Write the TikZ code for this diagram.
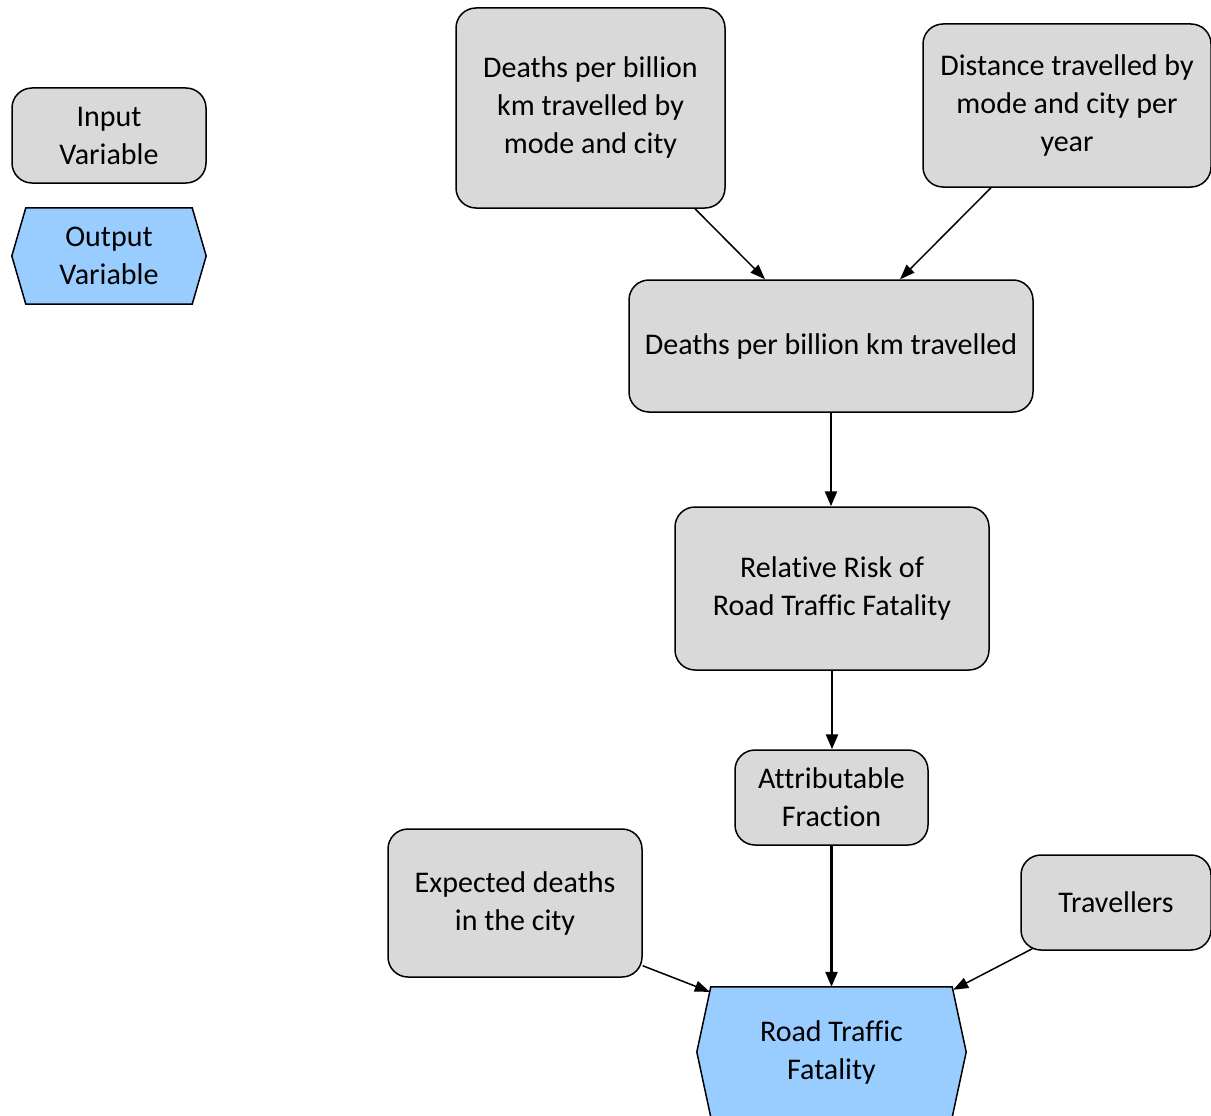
\documentclass[tikz,border=0pt]{standalone}
\usepackage{fontspec}
\setmainfont{Carlito}[Ligatures=NoCommon]
\usetikzlibrary{arrows.meta,calc,backgrounds}
\definecolor{inputgrey}{HTML}{D9D9D9}
\definecolor{outputblue}{HTML}{99CCFF}
\begin{document}
\begin{tikzpicture}[x=1pt,y=-1pt,
  every node/.style={font=\fontsize{30pt}{38pt}\selectfont, align=center, inner sep=0pt},
  inbox/.style={draw=black, line width=1.5pt, fill=inputgrey, rounded corners=20pt},
  outbox/.style={draw=none},
  hexshape/.style={draw=black, line width=1.5pt, fill=outputblue},
  arr/.style={draw=black, line width=1.5pt, -{Triangle[length=15pt,width=11pt]}},
  varr/.style={draw=black, line width=2.5pt, -{Triangle[length=15pt,width=12pt]}}]
\useasboundingbox (0,0) rectangle (1211,1116);

% legend
\node[inbox, minimum width=194pt, minimum height=95pt] (legin) at (109,135.5) {Input\\ Variable};
\node[outbox, minimum width=194pt, minimum height=96pt] (legout) at (109,256) {Output\\ Variable};

% input variables
\node[inbox, minimum width=269pt, minimum height=200pt] (dm) at (590.5,108) {Deaths per billion\\ km travelled by\\ mode and city};
\node[inbox, minimum width=288pt, minimum height=163pt] (dist) at (1067,105.5) {Distance travelled by\\ mode and city per\\ year};
\node[inbox, minimum width=404pt, minimum height=132pt] (dpb) at (831,346) {Deaths per billion km travelled};
\node[inbox, minimum width=314pt, minimum height=163pt] (rr) at (832,588.5) {Relative Risk of\\ Road Traffic Fatality};
\node[inbox, minimum width=193pt, minimum height=95pt] (af) at (831.5,797.5) {Attributable\\ Fraction};
\node[inbox, minimum width=254pt, minimum height=148pt] (exp) at (515,903) {Expected deaths\\ in the city};
\node[inbox, minimum width=190pt, minimum height=95pt] (trav) at (1116,902.5) {Travellers};

% output variable
\node[outbox, minimum width=269pt, minimum height=130pt] (rtf) at (831.5,1052) {Road Traffic\\ Fatality};

% hexagonal outlines of the output variables
\begin{pgfonlayer}{background}
  \foreach \n/\d in {legout/14, rtf/14} {
    \path[hexshape] ($(\n.north west)+(\d,0)$) -- ($(\n.north east)+(-\d,0)$) -- (\n.east)
      -- ($(\n.south east)+(-\d,0)$) -- ($(\n.south west)+(\d,0)$) -- (\n.west) -- cycle;
  }
\end{pgfonlayer}

% influences
\draw[arr] ($(dm.south)+(104.5,0)$) -- ($(dpb.north)+(-66,0)$);
\draw[arr] ($(dist.south)+(-76,0)$) -- ($(dpb.north)+(69,0)$);
\draw[varr] (dpb.south) -- (dpb.south |- rr.north);
\draw[varr] (rr.south) -- (rr.south |- af.north);
\draw[varr] (af.south) -- (af.south |- rtf.north);
\draw[arr] ($(exp.south east)+(0,-12)$) -- ($(rtf.north west)+(13,5)$);
\draw[arr] ($(trav.south west)+(12,-2)$) -- ($(rtf.north east)+(-13,3)$);
\end{tikzpicture}
\end{document}
